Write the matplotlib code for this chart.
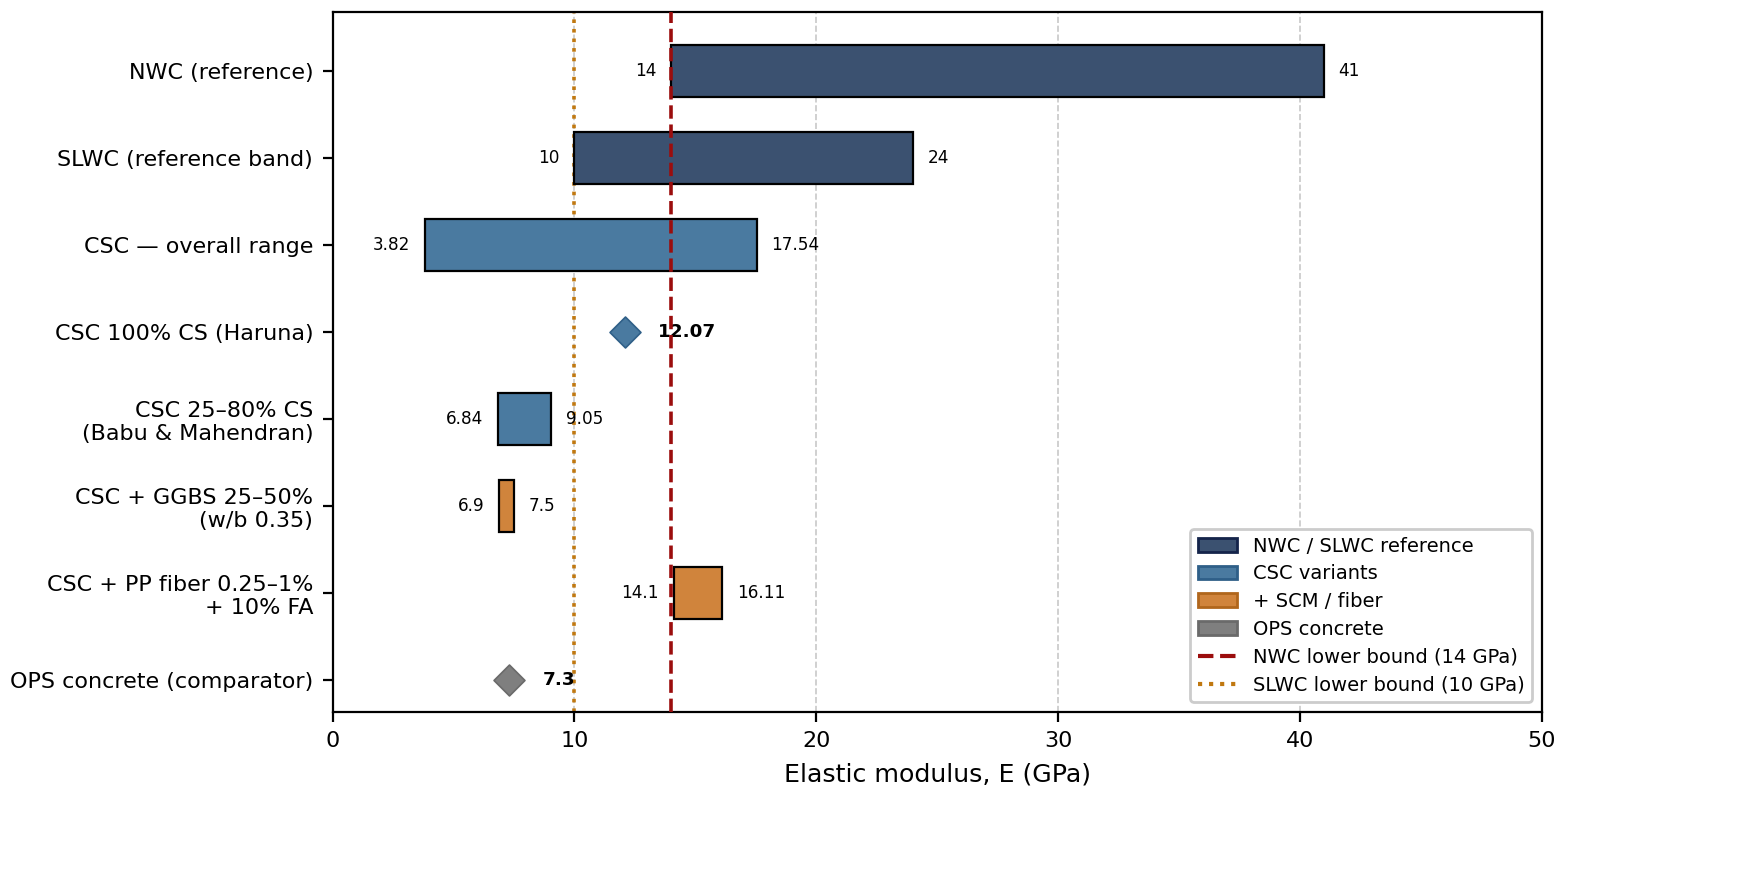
import matplotlib
matplotlib.use("Agg")
import matplotlib.pyplot as plt
from matplotlib.patches import Patch
from matplotlib.lines import Line2D

# categories, top to bottom
labels = ["NWC (reference)", "SLWC (reference band)", "CSC \u2014 overall range",
          "CSC 100% CS (Haruna)", "CSC 25\u201380% CS\n(Babu & Mahendran)",
          "CSC + GGBS 25\u201350%\n(w/b 0.35)", "CSC + PP fiber 0.25\u20131%\n+ 10% FA",
          "OPS concrete (comparator)"]

# ranges (low, high); None for single point values
low = [14, 10, 3.82, None, 6.84, 6.9, 14.1, None]
high = [41, 24, 17.54, None, 9.05, 7.5, 16.11, None]
point = [None, None, None, 12.07, None, None, None, 7.3]
group = ["ref", "ref", "csc", "csc", "csc", "scm", "scm", "ops"]

low_txt = ["14", "10", "3.82", "", "6.84", "6.9", "14.1", ""]
high_txt = ["41", "24", "17.54", "", "9.05", "7.5", "16.11", ""]
point_txt = ["", "", "", "12.07", "", "", "", "7.3"]

nwc_lower = 14
slwc_lower = 10

colors = {"ref": "#3b5170", "csc": "#4a7aa0", "scm": "#d0843c", "ops": "#7f7f7f"}
edges = {"ref": "#14244a", "csc": "#2f5f88", "scm": "#b0661c", "ops": "#6a6a6a"}

fig = plt.figure(figsize=(8.8, 4.46), dpi=200)
ax = fig.add_axes([0.189, 0.202, 0.687, 0.7845])

for i in range(len(labels)):
    g = group[i]
    if low[i] is not None:
        ax.barh(i, high[i] - low[i], left=low[i], height=0.6,
                color=colors[g], edgecolor="black", linewidth=0.8, zorder=3)
        ax.text(low[i] - 0.6, i, low_txt[i], ha="right", va="center", fontsize=6.1)
        ax.text(high[i] + 0.6, i, high_txt[i], ha="left", va="center", fontsize=6.1)
    else:
        ax.scatter(point[i], i, marker="D", s=62, color=colors[g],
                   edgecolor=edges[g], linewidth=0.6, zorder=4)
        ax.text(point[i] + 1.4, i, point_txt[i], ha="left", va="center",
                fontsize=6.6, fontweight="bold")

ax.axvline(nwc_lower, color="#9b0d0d", linestyle="--", linewidth=1.3, zorder=5)
ax.axvline(slwc_lower, color="#c07810", linestyle=":", linewidth=1.3, zorder=2)

ax.set_yticks(range(len(labels)))
ax.set_yticklabels(labels, fontsize=8.0)
ax.set_ylim(7.37, -0.68)
ax.set_xlim(0, 50)
ax.set_xticks([0, 10, 20, 30, 40, 50])
ax.tick_params(axis="x", labelsize=8.0)
ax.set_xlabel("Elastic modulus, E (GPa)", fontsize=9.1)
ax.grid(axis="x", linestyle="--", color="#c8c8c8", linewidth=0.6)
ax.set_axisbelow(True)

handles = [
    Patch(facecolor=colors["ref"], edgecolor=edges["ref"], label="NWC / SLWC reference"),
    Patch(facecolor=colors["csc"], edgecolor=edges["csc"], label="CSC variants"),
    Patch(facecolor=colors["scm"], edgecolor=edges["scm"], label="+ SCM / fiber"),
    Patch(facecolor=colors["ops"], edgecolor=edges["ops"], label="OPS concrete"),
    Line2D([0], [0], color="#9b0d0d", linestyle="--", label="NWC lower bound (14 GPa)"),
    Line2D([0], [0], color="#c07810", linestyle=":", label="SLWC lower bound (10 GPa)"),
]
ax.legend(handles=handles, loc="lower right", fontsize=7.0, framealpha=1,
          labelspacing=0.45)

fig.savefig("out.png", dpi=200)
